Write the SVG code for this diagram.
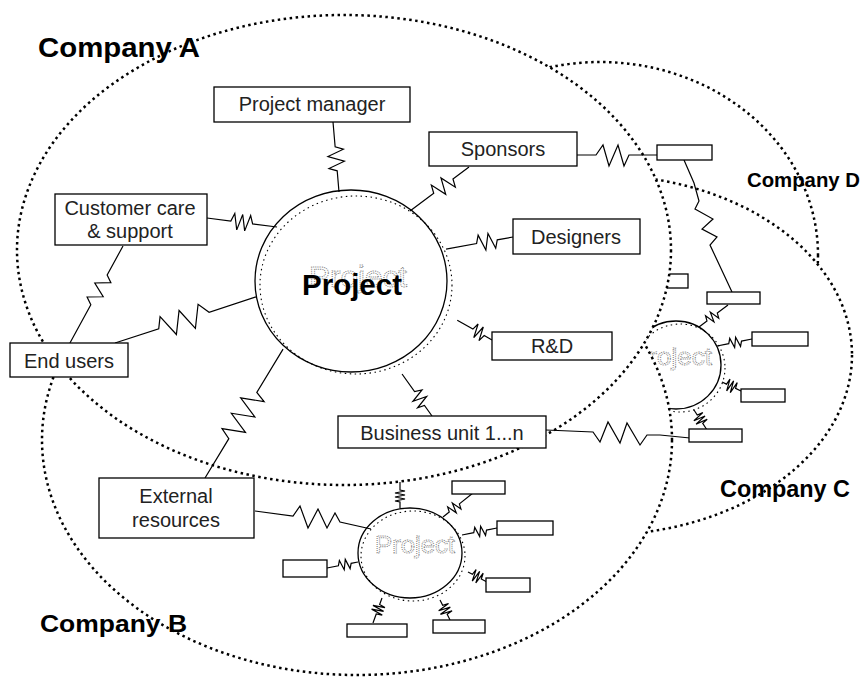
<svg xmlns="http://www.w3.org/2000/svg" width="862" height="677" viewBox="0 0 862 677">
<style>
.co{fill:#fff;stroke:#000;stroke-width:2.5;stroke-dasharray:2.5 3.5}
.bx{fill:#fff;stroke:#000;stroke-width:1.3}
.z{fill:none;stroke:#000;stroke-width:1.2;stroke-linejoin:miter}
.pc{fill:none;stroke:#000;stroke-width:1.3}
.sh{fill:none;stroke:#000;stroke-width:1.1;stroke-dasharray:1.5 3.5}
.t{font-family:"Liberation Sans",Arial,sans-serif;font-size:20px;fill:#222;text-anchor:middle}
.lb{font-family:"Liberation Sans",Arial,sans-serif;font-weight:bold;fill:#000}
.gh{font-family:"Liberation Sans",Arial,sans-serif;fill:none;stroke:#7a7a7a;stroke-width:0.9;stroke-dasharray:1 1}
</style>
<rect width="862" height="677" fill="#fff"/>
<g id="companies-back">
<ellipse id="company-d" class="co" cx="600" cy="255" rx="218" ry="193"/>
<ellipse id="company-c" class="co" cx="600" cy="355" rx="252" ry="180"/>
</g>
<g id="project-c">
<ellipse class="sh" cx="680" cy="368" rx="45" ry="44"/>
<ellipse class="pc" cx="676" cy="365" rx="45" ry="44"/>
<text class="gh" x="631" y="365" font-size="24" textLength="81" lengthAdjust="spacingAndGlyphs">Project</text>
</g>
<g id="box-c-hidden"><rect class="bx" x="640" y="274" width="48" height="14"/></g>
<ellipse id="company-b" class="co" cx="357" cy="440" rx="315" ry="235"/>
<ellipse id="company-a" class="co" cx="344" cy="250" rx="327" ry="235"/>

<g id="project-b">
<ellipse class="sh" cx="413" cy="556" rx="52" ry="45"/>
<ellipse class="pc" cx="410" cy="553" rx="52" ry="45"/>
<text class="gh" x="375" y="553" font-size="24" textLength="80" lengthAdjust="spacingAndGlyphs">Project</text>
</g>
<g id="project-main">
<ellipse class="sh" cx="356" cy="285" rx="96" ry="89"/>
<ellipse class="pc" cx="351" cy="281" rx="96" ry="91"/>
<text class="gh" x="309" y="287" font-size="29" textLength="98" lengthAdjust="spacingAndGlyphs">Project</text>
<text class="lb" x="302" y="295" font-size="29" textLength="100" lengthAdjust="spacingAndGlyphs">Project</text>
</g>

<g id="connectors">
<path class="z" transform="translate(333,122) rotate(85.1)" d="M0,0 H25 L28,-8 L34,8 L40,-8 L46,8 L49,0 H70.3"/>
<path class="z" transform="translate(469,167) rotate(143.3)" d="M0,0 H20 L23,-8 L29,8 L35,-8 L41,8 L44,0 H73.6"/>
<path class="z" transform="translate(513,237) rotate(169.8)" d="M0,0 H16 L19,-8 L24,8 L29,-8 L34,8 L37,0 H68"/>
<path class="z" transform="translate(492,340) rotate(-150.3)" d="M0,0 H9 L11,-7 L14,7 L17,-7 L20,7 L22,0 H40"/>
<path class="z" transform="translate(432,416) rotate(-125.5)" d="M0,0 H13 L15,-7 L19,7 L23,-7 L27,7 L30,0 H51.6"/>
<path class="z" transform="translate(205,478) rotate(-58.8)" d="M0,0 H46 L51,-11 L60,11 L69,-11 L78,11 L87,-11 L96,11 L100,0 H150.7"/>
<path class="z" transform="translate(115,343) rotate(-18.1)" d="M0,0 H46 L51,-11 L61,11 L71,-11 L81,11 L91,-11 L99,0 H148.3"/>
<path class="z" transform="translate(207,218) rotate(7.3)" d="M0,0 H24 L27,-8 L31,8 L35,-8 L39,8 L43,-8 L46,0 H70.6"/>
<path class="z" transform="translate(123,246) rotate(118.7)" d="M0,0 H33 L38,-7 L46,7 L54,-7 L62,7 L67,0 H110.5"/>
<polyline class="z" points="577,155 596,155 603,145 609,166 618,145 624,166 629,155 657,155"/>
<polyline class="z" points="684,160 694,183 699,201 695,209 713,219 702,229 717,237 710,245 732,292"/>
<polyline class="z" points="546,430 593,432 600,442 608,422 620,443 627,423 640,445 647,435 660,435 690,438"/>
<polyline class="z" points="255,511 293,516 300,506 308,528 318,509 327,528 335,513 340,522 371,529"/>
<path class="z" transform="translate(699,327) rotate(-37.2)" d="M0,0 H10 L12,-5 L15,5 L18,-5 L21,5 L23,0 H36.4"/>
<path class="z" transform="translate(717,346) rotate(-11.3)" d="M0,0 H12 L14,-5 L17,5 L20,-5 L23,5 L25,0 H35.7"/>
<path class="z" transform="translate(722,382) rotate(25.3)" d="M0,0 H5 L6,-6 L8,6 L10,-6 L12,6 L14,-6 L15,0 H21"/>
<path class="z" transform="translate(694,410) rotate(57)" d="M0,0 H6 L7,-6 L9,6 L11,-6 L13,6 L15,-6 L16,0 H23.9"/>
<path class="z" transform="translate(400,508) rotate(-90)" d="M0,0 H6 L7,-5 L9,5 L11,-5 L13,5 L15,-5 L17,5 L18,0 H26"/>
<path class="z" transform="translate(443,517) rotate(-38.7)" d="M0,0 H8 L10,-5 L13,5 L16,-5 L19,5 L21,0 H38.4"/>
<path class="z" transform="translate(462,535) rotate(-11.3)" d="M0,0 H12 L14,-5 L17,5 L20,-5 L23,5 L25,0 H35.7"/>
<path class="z" transform="translate(468,572) rotate(27.8)" d="M0,0 H5 L6,-6 L8,6 L10,-6 L12,6 L14,-6 L15,0 H21.5"/>
<path class="z" transform="translate(440,600) rotate(63.4)" d="M0,0 H6 L7,-6 L9,6 L11,-6 L13,6 L15,-6 L16,0 H22.4"/>
<path class="z" transform="translate(382,598) rotate(109.8)" d="M0,0 H7 L8,-6 L10,6 L12,-6 L14,6 L16,-6 L17,0 H26.6"/>
<path class="z" transform="translate(358,562) rotate(169)" d="M0,0 H7 L9,-5 L12,5 L15,-5 L18,5 L20,0 H31.6"/>
</g>

<g id="project-manager"><rect class="bx" x="214" y="87" width="196" height="35"/><text class="t" x="312" y="111">Project manager</text></g>
<g id="sponsors"><rect class="bx" x="429" y="132" width="148" height="34"/><text class="t" x="503" y="156">Sponsors</text></g>
<g id="customer-care"><rect class="bx" x="55" y="194" width="152" height="51"/><text class="t" x="130" y="215">Customer care</text><text class="t" x="130" y="238">&amp; support</text></g>
<g id="designers"><rect class="bx" x="513" y="219" width="127" height="35"/><text class="t" x="576" y="244">Designers</text></g>
<g id="rd"><rect class="bx" x="492" y="332" width="120" height="28"/><text class="t" x="552" y="353">R&amp;D</text></g>
<g id="end-users"><rect class="bx" x="10" y="343" width="118" height="34"/><text class="t" x="69" y="368">End users</text></g>
<g id="business-unit"><rect class="bx" x="338" y="416" width="208" height="32"/><text class="t" x="442" y="440">Business unit 1...n</text></g>
<g id="external-resources"><rect class="bx" x="99" y="478" width="155" height="60"/><text class="t" x="176" y="503">External</text><text class="t" x="176" y="527">resources</text></g>

<g id="box-d1"><rect class="bx" x="657" y="145" width="55" height="15"/></g>
<g id="box-c1"><rect class="bx" x="707" y="292" width="53" height="12"/></g>
<g id="box-c2"><rect class="bx" x="752" y="332" width="56" height="14"/></g>
<g id="box-c3"><rect class="bx" x="741" y="389" width="44" height="13"/></g>
<g id="box-c4"><rect class="bx" x="689" y="429" width="53" height="13"/></g>
<g id="box-b1"><rect class="bx" x="452" y="481" width="53" height="13"/></g>
<g id="box-b2"><rect class="bx" x="497" y="521" width="56" height="14"/></g>
<g id="box-b3"><rect class="bx" x="486" y="578" width="44" height="14"/></g>
<g id="box-b4"><rect class="bx" x="433" y="620" width="52" height="13"/></g>
<g id="box-b5"><rect class="bx" x="347" y="624" width="60" height="13"/></g>
<g id="box-b6"><rect class="bx" x="283" y="560" width="44" height="17"/></g>

<g id="labels">
<text class="lb" x="38" y="57" font-size="27" textLength="162" lengthAdjust="spacingAndGlyphs">Company A</text>
<text class="lb" x="40" y="632" font-size="24" textLength="147" lengthAdjust="spacingAndGlyphs">Company B</text>
<text class="lb" x="720" y="497" font-size="23" textLength="130" lengthAdjust="spacingAndGlyphs">Company C</text>
<text class="lb" x="747" y="187" font-size="20" textLength="113" lengthAdjust="spacingAndGlyphs">Company D</text>
</g>
</svg>
